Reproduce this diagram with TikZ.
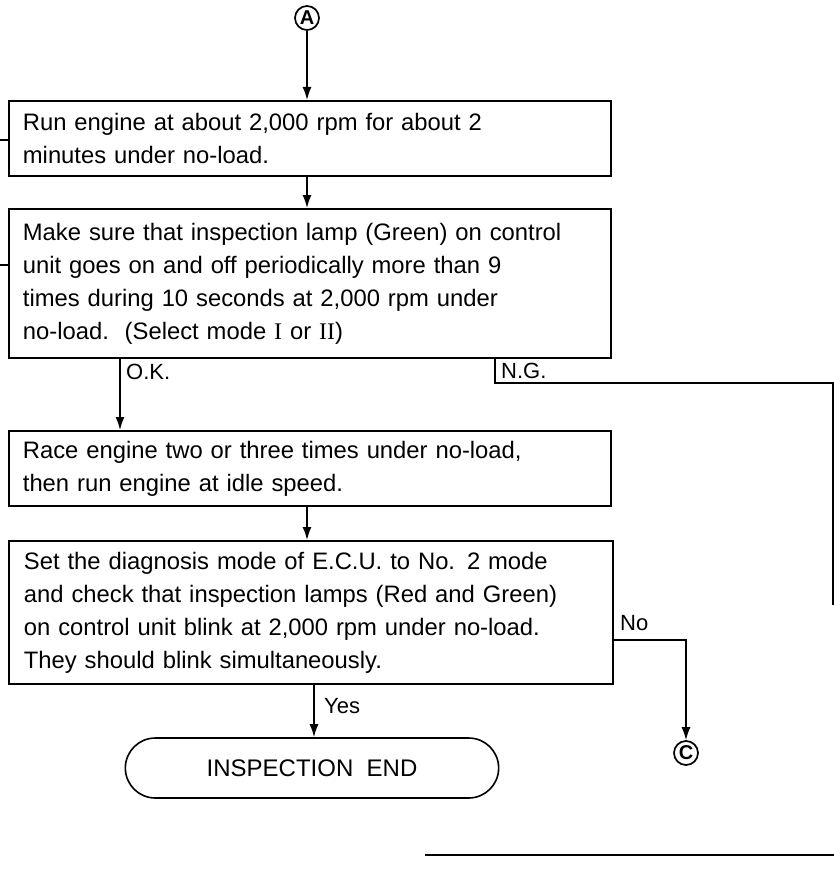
\documentclass[tikz,border=0pt]{standalone}
\usepackage{fontspec}
\setmainfont{Liberation Sans}
\newfontfamily\romnum{Liberation Serif}
\usetikzlibrary{arrows.meta,shapes.misc}
\begin{document}
\begin{tikzpicture}[x=1pt,y=-1pt,
  box/.style={draw, line width=1.8pt, anchor=north west, minimum width=602pt,
    text width=574pt, inner xsep=14pt, align=left, font=\fontsize{23.8}{33}\selectfont},
  term/.style={draw, line width=1.6pt, rounded rectangle, minimum width=380pt,
    minimum height=60pt, font=\fontsize{24}{28}\selectfont},
  circ/.style={draw, circle, line width=1.7pt, minimum size=24pt, inner sep=0pt,
    font=\bfseries\fontsize{20}{20}\selectfont},
  conn/.style={line width=1.5pt},
  arr/.style={conn, -{Latex[length=13pt,width=9pt]}},
  lbl/.style={anchor=west, inner sep=0pt, font=\fontsize{22}{26}\selectfont}
]
\useasboundingbox (0,0) rectangle (834,888);

\node[circ] (A) at (307,18) {A};
\node[box, minimum height=75pt] (b1) at (8,100)
  {Run engine at about 2,000 rpm for about 2\\minutes under no-load.};
\node[box, minimum height=149pt] (b2) at (8,208)
  {Make sure that inspection lamp (Green) on control\\unit goes on and off periodically more than 9\\times during 10 seconds at 2,000 rpm under\\no-load.\ \ (Select mode {\romnum I} or {\romnum II})};
\node[box, minimum height=75pt] (b3) at (8,430)
  {Race engine two or three times under no-load,\\then run engine at idle speed.};
\node[box, minimum height=143pt, minimum width=604pt] (b4) at (8,540)
  {Set the diagnosis mode of E.C.U. to No. 2 mode\\and check that inspection lamps (Red and Green)\\on control unit blink at 2,000 rpm under no-load.\\They should blink simultaneously.};
\node[term] (end) at (312,768) {INSPECTION\ \ END};
\node[circ] (C) at (686,753) {C};

% left stubs
\coordinate (s1) at (0,140);
\coordinate (s2) at (0,265);
\draw[conn] (s1) -- (s1 -| b1.west);
\draw[conn] (s2) -- (s2 -| b2.west);

% main flow
\draw[arr] (A) -- (A |- b1.north);
\draw[arr] (A |- b1.south) -- (A |- b2.north);
\coordinate (okx) at (120,0);
\draw[arr] (okx |- b2.south) -- (okx |- b3.north);
\node[lbl] at (126,372) {O.K.};
\draw[arr] (A |- b3.south) -- (A |- b4.north);

% N.G. branch
\coordinate (ngx) at (495,0);
\coordinate (ngcorner) at (833,383);
\coordinate (ngend) at (833,605);
\draw[conn] (ngx |- b2.south) -- (ngx |- ngcorner) -- (ngcorner) -- (ngend);
\node[lbl] at (501,371) {N.G.};

% No branch
\coordinate (nob) at (612,640);
\draw[arr] (nob) -- (C |- nob) -- (C);
\node[lbl] at (620,623) {No};

% Yes branch
\coordinate (yesx) at (314,0);
\draw[arr] (yesx |- b4.south) -- (yesx |- end.north);
\node[lbl] at (324,706) {Yes};

% bottom line
\coordinate (l1) at (425,855);
\coordinate (l2) at (834,855);
\draw[conn] (l1) -- (l2);
\end{tikzpicture}
\end{document}
